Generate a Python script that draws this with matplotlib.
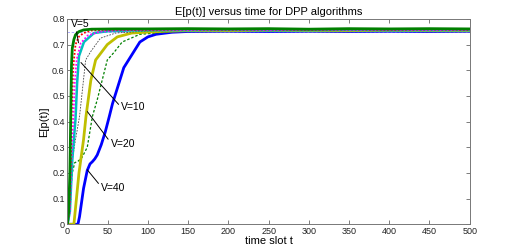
import matplotlib
matplotlib.use("Agg")
import matplotlib.pyplot as plt

plt.rcParams["font.family"] = ["Liberation Sans", "DejaVu Sans"]

# --- data (time slot, E[p(t)]) ---
PLATEAU_T = [150, 200, 250, 300, 350, 400, 450, 500]

t_v5 = [0, 1.5, 3, 4, 5, 6, 8, 10, 14, 20, 30, 60, 100] + PLATEAU_T
p_v5 = [0, 0.05, 0.2, 0.41, 0.62, 0.686, 0.72, 0.738, 0.75, 0.757, 0.76, 0.761, 0.761,
        0.762, 0.761, 0.762, 0.760, 0.762, 0.761, 0.762, 0.761]

t_red = [0, 2, 4, 5, 7, 8, 10, 14, 20, 30, 50, 100] + PLATEAU_T
p_red = [0, 0.05, 0.25, 0.41, 0.6, 0.64, 0.70, 0.73, 0.745, 0.755, 0.758, 0.758,
         0.759, 0.758, 0.759, 0.758, 0.759, 0.758, 0.759, 0.758]

t_mag = [0, 3, 5, 7.3, 9, 11.4, 16.4, 25, 40, 60, 100] + PLATEAU_T
p_mag = [0, 0.05, 0.25, 0.41, 0.55, 0.64, 0.705, 0.735, 0.75, 0.755, 0.757,
         0.757, 0.758, 0.757, 0.757, 0.758, 0.757, 0.757, 0.757]

t_v10 = [0, 3, 6, 10, 12, 14.3, 20.5, 33, 50, 80, 100] + PLATEAU_T
p_v10 = [0, 0.05, 0.25, 0.41, 0.55, 0.655, 0.71, 0.745, 0.752, 0.755, 0.756,
         0.756, 0.757, 0.756, 0.756, 0.757, 0.756, 0.756, 0.756]

t_blk = [0, 3, 6, 10, 15, 22.6, 29, 41, 60, 100] + PLATEAU_T
p_blk = [0, 0.05, 0.25, 0.33, 0.42, 0.64, 0.673, 0.725, 0.745, 0.753,
         0.755, 0.755, 0.756, 0.755, 0.755, 0.756, 0.755, 0.755]

t_v20 = [0, 8, 14.3, 20, 23, 29, 35, 49.5, 62, 80, 120] + PLATEAU_T
p_v20 = [0, 0, 0.2, 0.33, 0.42, 0.56, 0.64, 0.70, 0.73, 0.745, 0.752,
         0.754, 0.754, 0.755, 0.754, 0.754, 0.755, 0.754, 0.754]

t_gd = [0, 3, 6, 9, 13, 18, 24.6, 31, 37, 49.5, 58, 68, 90, 130] + PLATEAU_T
p_gd = [0, 0.1, 0.2, 0.24, 0.245, 0.26, 0.30, 0.42, 0.485, 0.64, 0.67, 0.71, 0.74, 0.75,
        0.755, 0.755, 0.756, 0.755, 0.755, 0.756, 0.755, 0.755]

t_v40 = [0, 13, 15, 20, 24.6, 28, 31, 34, 37, 42, 47, 52, 56, 60, 70, 78, 90, 100, 110, 130] + PLATEAU_T
p_v40 = [0, 0, 0.03, 0.14, 0.21, 0.235, 0.244, 0.255, 0.27, 0.31, 0.36, 0.42, 0.47, 0.51,
         0.61, 0.65, 0.71, 0.73, 0.74, 0.748,
         0.751, 0.752, 0.751, 0.752, 0.751, 0.752, 0.751, 0.752]

XTICKS = list(range(0, 501, 50))
YTICKS = [0, 0.1, 0.2, 0.3, 0.4, 0.5, 0.6, 0.7, 0.8]
YTICK_LABELS = ["0", "0.1", "0.2", "0.3", "0.4", "0.5", "0.6", "0.7", "0.8"]
TARGET = 0.75


fig = plt.figure(figsize=(5.19, 2.52), dpi=100)
ax = fig.add_axes([0.13, 0.11, 0.775, 0.815])

# reference level
ax.axhline(TARGET, color="#9f9fff", linestyle="--", linewidth=0.6, dashes=(3, 2), zorder=1)

# curves, largest V drawn first
ax.plot(t_v40, p_v40, color="#0000ff", linewidth=2.0)
ax.plot(t_gd, p_gd, color="#008000", linestyle=(0, (2, 1.5)), linewidth=0.9)
ax.plot(t_v20, p_v20, color="#bfbf00", linewidth=2.0)
ax.plot(t_blk, p_blk, color="#444444", linestyle=(0, (2, 1.5)), linewidth=0.6)
ax.plot(t_v10, p_v10, color="#00bfbf", linewidth=1.8)
ax.plot(t_mag, p_mag, color="#ff00ff", linestyle=(0, (1, 1)), linewidth=1.3)
ax.plot(t_red, p_red, color="#ff0000", linestyle=(0, (1, 1)), linewidth=1.3)
ax.plot(t_v5, p_v5, color="#008000", linewidth=2.0)

# labels on the curves
arrow = dict(arrowstyle="-", color="k", linewidth=0.7, shrinkA=0, shrinkB=0)
ax.annotate("V=5", xy=(13.7, 0.707), xytext=(4.7, 0.78), fontsize=7.5, ha="left", va="center",
            arrowprops=dict(arrow, relpos=(0.25, 0.1)))
ax.annotate("V=10", xy=(16.8, 0.63), xytext=(67, 0.455), fontsize=7.5, ha="left", va="center",
            arrowprops=dict(arrow, relpos=(0, 0.5)))
ax.annotate("V=20", xy=(24.7, 0.439), xytext=(54, 0.313), fontsize=7.5, ha="left", va="center",
            arrowprops=dict(arrow, relpos=(0, 0.6)))
ax.annotate("V=40", xy=(24.7, 0.212), xytext=(42, 0.142), fontsize=7.5, ha="left", va="center",
            arrowprops=dict(arrow, relpos=(0, 0.6)))

ax.set_xlim(0, 500)
ax.set_ylim(0, 0.8)
ax.set_xticks(XTICKS)
ax.set_yticks(YTICKS)
ax.set_yticklabels(YTICK_LABELS)
ax.tick_params(direction="in", length=3, width=0.6, colors="#666666", labelcolor="#222222",
               labelsize=6.5, top=True, right=True, pad=2)
for s in ax.spines.values():
    s.set_color("#777777")
    s.set_linewidth(0.7)

ax.set_title("E[p(t)] versus time for DPP algorithms", fontsize=8, pad=3)
ax.set_xlabel("time slot t", fontsize=8, labelpad=0)
ax.set_ylabel("E[p(t)]", fontsize=8, labelpad=2)

fig.savefig("out.png", dpi=100)
